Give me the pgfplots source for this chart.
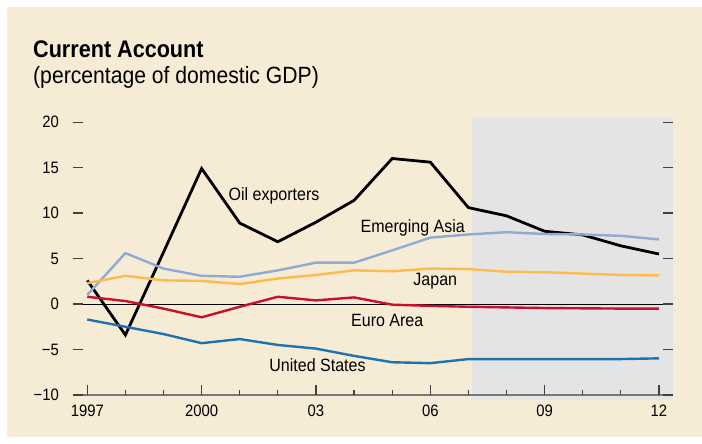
\documentclass[border=0pt]{standalone}
\usepackage{pgfplots}
\pgfplotsset{compat=1.18}
\usepackage{fontspec}
\setmainfont{Liberation Sans}[FakeStretch=0.9]
\definecolor{bg}{RGB}{246,236,213}
\definecolor{shadegray}{RGB}{228,228,229}
\definecolor{easia}{RGB}{143,170,211}
\definecolor{japan}{RGB}{253,186,77}
\definecolor{euro}{RGB}{200,16,46}
\definecolor{usa}{RGB}{31,114,176}
\definecolor{axgray}{RGB}{120,120,120}
\begin{document}
\begin{tikzpicture}[x=1bp,y=1bp]
\fill[bg] (7,7) rectangle (702,437);
\node[anchor=base west, inner sep=0] at (33,386) {\fontsize{24bp}{28bp}\selectfont\bfseries Current Account};
\node[anchor=base west, inner sep=0] at (33,360.5) {\fontsize{23.5bp}{27bp}\selectfont (percentage of domestic GDP)};
\begin{axis}[at={(73bp,49bp)}, anchor=south west, scale only axis,
  width=599.7bp, height=278.3bp,
  xmin=1996.625, xmax=2012.36, ymin=-10, ymax=20.6,
  clip=false, axis on top,
  axis line style={draw=none},
  xtick={1997,2000,2003,2006,2009,2012},
  xticklabels={1997,2000,03,06,09,12},
  minor xtick={1998,1999,2001,2002,2004,2005,2007,2008,2010,2011},
  ytick={-10,-5,0,5,10,15,20},
  yticklabels={−10,−5,0,5,10,15,20},
  xtick pos=left, ytick pos=both, tick align=inside,
  major tick length=10bp, minor tick length=5bp,
  every tick/.style={black!75, line width=1.2bp},
  xticklabel style={anchor=north, inner sep=0pt, yshift=-10bp, font=\fontsize{16.5bp}{18bp}\selectfont},
  yticklabel style={anchor=east, inner sep=0pt, xshift=-14bp, font=\fontsize{16.5bp}{18bp}\selectfont},
]
\fill[shadegray] (axis cs:2007.1,-10.55) rectangle (axis cs:2012.36,20.6);
\draw[black, line width=0.8bp] (axis cs:1996.625,0) -- (axis cs:2012.36,0);
\addplot[black, line width=2.8bp] coordinates {(1997,2.6)(1998,-3.4)(1999,5.7)(2000,14.9)(2001,8.9)(2002,6.85)(2003,9.0)(2004,11.4)(2005,16.0)(2006,15.6)(2007,10.6)(2008,9.7)(2009,8.0)(2010,7.6)(2011,6.4)(2012,5.5)};
\addplot[easia, line width=2.4bp] coordinates {(1997,1.0)(1998,5.6)(1999,3.9)(2000,3.1)(2001,3.0)(2002,3.7)(2003,4.55)(2004,4.55)(2005,5.9)(2006,7.3)(2007,7.65)(2008,7.9)(2009,7.7)(2010,7.65)(2011,7.5)(2012,7.1)};
\addplot[japan, line width=2.4bp] coordinates {(1997,2.3)(1998,3.1)(1999,2.6)(2000,2.55)(2001,2.2)(2002,2.8)(2003,3.2)(2004,3.7)(2005,3.6)(2006,3.9)(2007,3.85)(2008,3.55)(2009,3.5)(2010,3.35)(2011,3.2)(2012,3.15)};
\addplot[euro, line width=2.4bp] coordinates {(1997,0.8)(1998,0.33)(1999,-0.5)(2000,-1.46)(2001,-0.3)(2002,0.8)(2003,0.4)(2004,0.73)(2005,-0.07)(2006,-0.2)(2007,-0.3)(2008,-0.37)(2009,-0.44)(2010,-0.47)(2011,-0.5)(2012,-0.5)};
\addplot[usa, line width=2.4bp] coordinates {(1997,-1.7)(1998,-2.5)(1999,-3.3)(2000,-4.3)(2001,-3.85)(2002,-4.5)(2003,-4.9)(2004,-5.7)(2005,-6.4)(2006,-6.5)(2007,-6.05)(2008,-6.05)(2009,-6.05)(2010,-6.05)(2011,-6.05)(2012,-5.97)};
\draw[axgray, line width=2bp] (axis cs:1996.625,-10) -- (axis cs:2012.36,-10);
\node[anchor=base, inner sep=0, font=\fontsize{17.8bp}{19bp}\selectfont] at (axis cs:2001.9,11.4) {Oil exporters};
\node[anchor=base, inner sep=0, font=\fontsize{17.8bp}{19bp}\selectfont] at (axis cs:2005.54,7.88) {Emerging Asia};
\node[anchor=base, inner sep=0, font=\fontsize{17.8bp}{19bp}\selectfont] at (axis cs:2006.13,2.09) {Japan};
\node[anchor=base, inner sep=0, font=\fontsize{17.8bp}{19bp}\selectfont] at (axis cs:2004.87,-2.42) {Euro Area};
\node[anchor=base, inner sep=0, font=\fontsize{17.8bp}{19bp}\selectfont] at (axis cs:2003.04,-7.44) {United States};
\end{axis}
\pgfresetboundingbox
\useasboundingbox (0,0) rectangle (702,444);
\end{tikzpicture}
\end{document}
